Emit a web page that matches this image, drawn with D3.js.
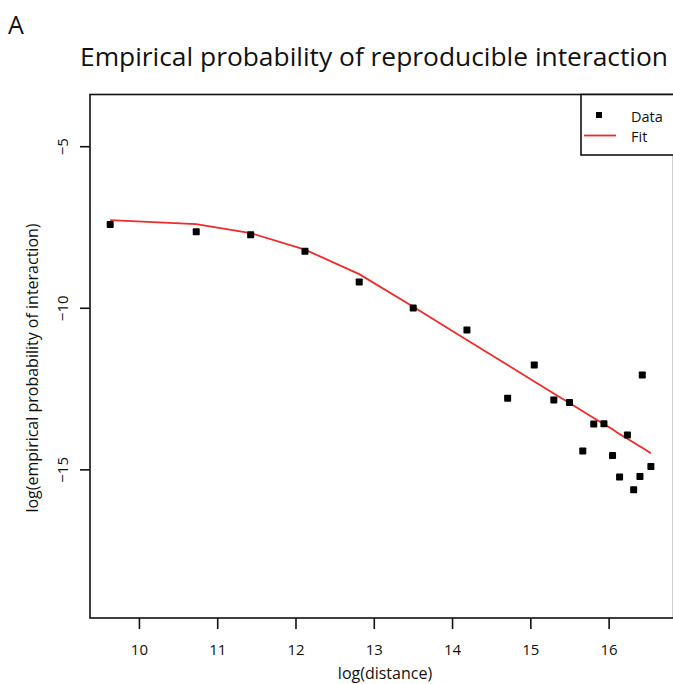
<!DOCTYPE html>
<html>
<head>
<meta charset="utf-8">
<script src="https://cdn.jsdelivr.net/npm/d3@7/dist/d3.min.js"></script>
<style>
  html, body { margin: 0; padding: 0; background: #fff; overflow: hidden; }
  svg { display: block; }
  text { font-family: "Open Sans", "Noto Sans", sans-serif; fill: #111; }
</style>
</head>
<body>
<svg id="chart" width="673" height="684"></svg>
<script>
// log(distance) for each distance bin
const logDistance = [9.633, 10.732, 11.427, 12.121, 12.814, 13.504, 14.19, 14.71, 15.05, 15.30,
                     15.50, 15.67, 15.81, 15.94, 16.05, 16.14, 16.24, 16.32, 16.40, 16.43, 16.54];
// observed log(empirical probability of interaction)
const logProbObserved = [-7.42, -7.65, -7.74, -8.25, -9.20, -10.01, -10.69, -12.80, -11.77, -12.85,
                         -12.93, -14.43, -13.60, -13.59, -14.57, -15.24, -13.94, -15.63, -15.22, -12.08, -14.91];
// fitted curve evaluated at the same distances
const logProbFit = [-7.29, -7.41, -7.69, -8.20, -8.96, -9.97, -11.00, -11.77, -12.28, -12.65,
                    -12.95, -13.20, -13.41, -13.60, -13.76, -13.91, -14.05, -14.17, -14.29, -14.33, -14.50];

const xTicks = [10, 11, 12, 13, 14, 15, 16];
const yTicks = [-5, -10, -15];
const legendLabels = ["Data", "Fit"];

const svg = d3.select("#chart");
const fitColor = "#ee2a2a";

const plot = { left: 90, right: 673.6, top: 94.5, bottom: 618 };

const x = d3.scaleLinear().domain([9.375, 16.83]).range([plot.left, plot.right]);
const y = d3.scaleLinear().domain([-19.6, -3.4]).range([plot.bottom, plot.top]);

// panel letter and title
svg.append("text").attr("x", 8).attr("y", 34)
  .style("font-size", "25px").text("A");
svg.append("text").attr("x", 374).attr("y", 66)
  .attr("text-anchor", "middle")
  .attr("textLength", 588).attr("lengthAdjust", "spacingAndGlyphs")
  .style("font-size", "26px")
  .text("Empirical probability of reproducible interaction");

// axes
const xAxis = svg.append("g")
  .attr("transform", `translate(0,${plot.bottom})`)
  .call(d3.axisBottom(x).tickValues(xTicks).tickSize(11).tickSizeOuter(0).tickPadding(15).tickFormat(d3.format("d")));
xAxis.select(".domain").remove();
xAxis.selectAll(".tick line").attr("stroke", "#111").attr("stroke-width", 1.6);
xAxis.selectAll(".tick text").style("font-size", "15px").style("font-family", '"Open Sans", sans-serif').attr("fill", "#111");

const yAxis = svg.append("g")
  .attr("transform", `translate(${plot.left},0)`)
  .call(d3.axisLeft(y).tickValues(yTicks).tickSize(10).tickSizeOuter(0).tickFormat(d => "\u2212" + Math.abs(d)));
yAxis.select(".domain").remove();
yAxis.selectAll(".tick line").attr("stroke", "#111").attr("stroke-width", 1.6);
yAxis.selectAll(".tick text")
  .attr("x", null).attr("dy", null)
  .attr("transform", "translate(-22,0) rotate(-90)")
  .attr("text-anchor", "middle")
  .attr("fill", "#111")
  .style("font-size", "15px").style("font-family", '"Open Sans", sans-serif');

// plot frame
svg.append("rect")
  .attr("x", plot.left).attr("y", plot.top)
  .attr("width", plot.right - plot.left).attr("height", plot.bottom - plot.top)
  .attr("fill", "none").attr("stroke", "#111").attr("stroke-width", 1.6);

// axis titles
svg.append("text").attr("x", 385).attr("y", 679)
  .attr("text-anchor", "middle").style("font-size", "16px").text("log(distance)");
svg.append("text")
  .attr("transform", "translate(38,368) rotate(-90)")
  .attr("text-anchor", "middle").style("font-size", "16px")
  .text("log(empirical probability of interaction)");

// fitted curve
const fitData = logDistance.map((d, i) => [d, logProbFit[i]]);
svg.append("path")
  .datum(fitData)
  .attr("fill", "none").attr("stroke", fitColor).attr("stroke-width", 1.8)
  .attr("d", d3.line().x(d => x(d[0])).y(d => y(d[1])));

// observed points
const pt = 7;
svg.append("g").selectAll("rect")
  .data(logDistance.map((d, i) => [d, logProbObserved[i]]))
  .join("rect")
  .attr("x", d => x(d[0]) - pt / 2).attr("y", d => y(d[1]) - pt / 2)
  .attr("width", pt).attr("height", pt).attr("rx", 0.8)
  .attr("fill", "#000");

// legend
const lg = svg.append("g");
lg.append("rect").attr("x", 581).attr("y", plot.top).attr("width", 140).attr("height", 60.5)
  .attr("fill", "#fff").attr("stroke", "#111").attr("stroke-width", 1.6);
lg.append("rect").attr("x", 596).attr("y", 112).attr("width", 6).attr("height", 6).attr("fill", "#000");
lg.append("line").attr("x1", 584).attr("x2", 616).attr("y1", 135.5).attr("y2", 135.5)
  .attr("stroke", fitColor).attr("stroke-width", 1.8);
lg.selectAll("text.lab").data(legendLabels).join("text")
  .attr("class", "lab")
  .attr("x", 631).attr("y", (d, i) => 122 + i * 19.5)
  .style("font-size", "14.5px").text(d => d);
</script>
</body>
</html>
